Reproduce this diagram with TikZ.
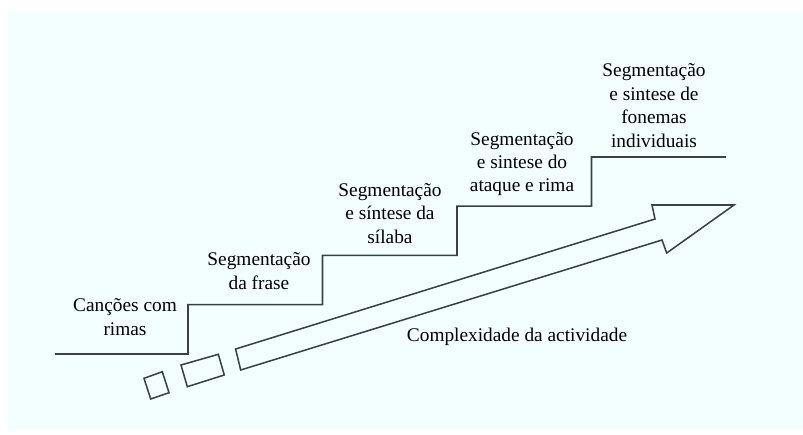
\documentclass[tikz,border=0pt]{standalone}
\usepackage{fontspec}
\setmainfont{Liberation Serif}
\usepackage{tikz}

\definecolor{bgcyan}{HTML}{F2FEFF}
\definecolor{inkgray}{HTML}{3A3F48}

\tikzset{
  stairline/.style={inkgray,line width=1.3pt,line join=miter},
  steplabel/.style={align=center,text=black,font=\fontsize{16.5}{20}\selectfont},
}

\begin{document}
\begin{tikzpicture}[x=0.03cm,y=-0.03cm]
  \useasboundingbox (0,0) rectangle (803,434);
  \fill[bgcyan] (8,12) rectangle (803,430);
  % the stairs
  \draw[stairline] (55,354) -- (188,354)
    \foreach \s in {1,2,3,4} { -- (188+134.5*\s-134.5,354-49.3*\s) -- (188+134.5*\s,354-49.3*\s) }
    -- (591,157) -- (726,157);
  % the arrow
  \draw[stairline] (240.7,370) -- (662,240) -- (666.7,253) -- (734,205) -- (652,205)
    -- (655,219) -- (235.6,349) -- cycle;
  \draw[stairline] (181,365) -- (218.3,354.3) -- (224.3,375) -- (187.3,386.7) -- cycle;
  \draw[stairline] (144,378.3) -- (162.3,371.7) -- (169,392.7) -- (150.7,399) -- cycle;
  % the labels
  \node[steplabel] (cancoes) at (125,317) {Canções com\\rimas};
  \node[steplabel] (frase) at (259,271) {Segmentação\\da frase};
  \node[steplabel] (silaba) at (390,213.5) {Segmentação\\e síntese da\\sílaba};
  \node[steplabel] (rima) at (522,164) {Segmentação\\e sintese do\\ataque e rima};
  \node[steplabel] (fonemas) at (654,105.7) {Segmentação\\e sintese de\\fonemas\\individuais};
  \node[steplabel] (complex) at (517,337) {Complexidade da actividade};
\end{tikzpicture}
\end{document}
